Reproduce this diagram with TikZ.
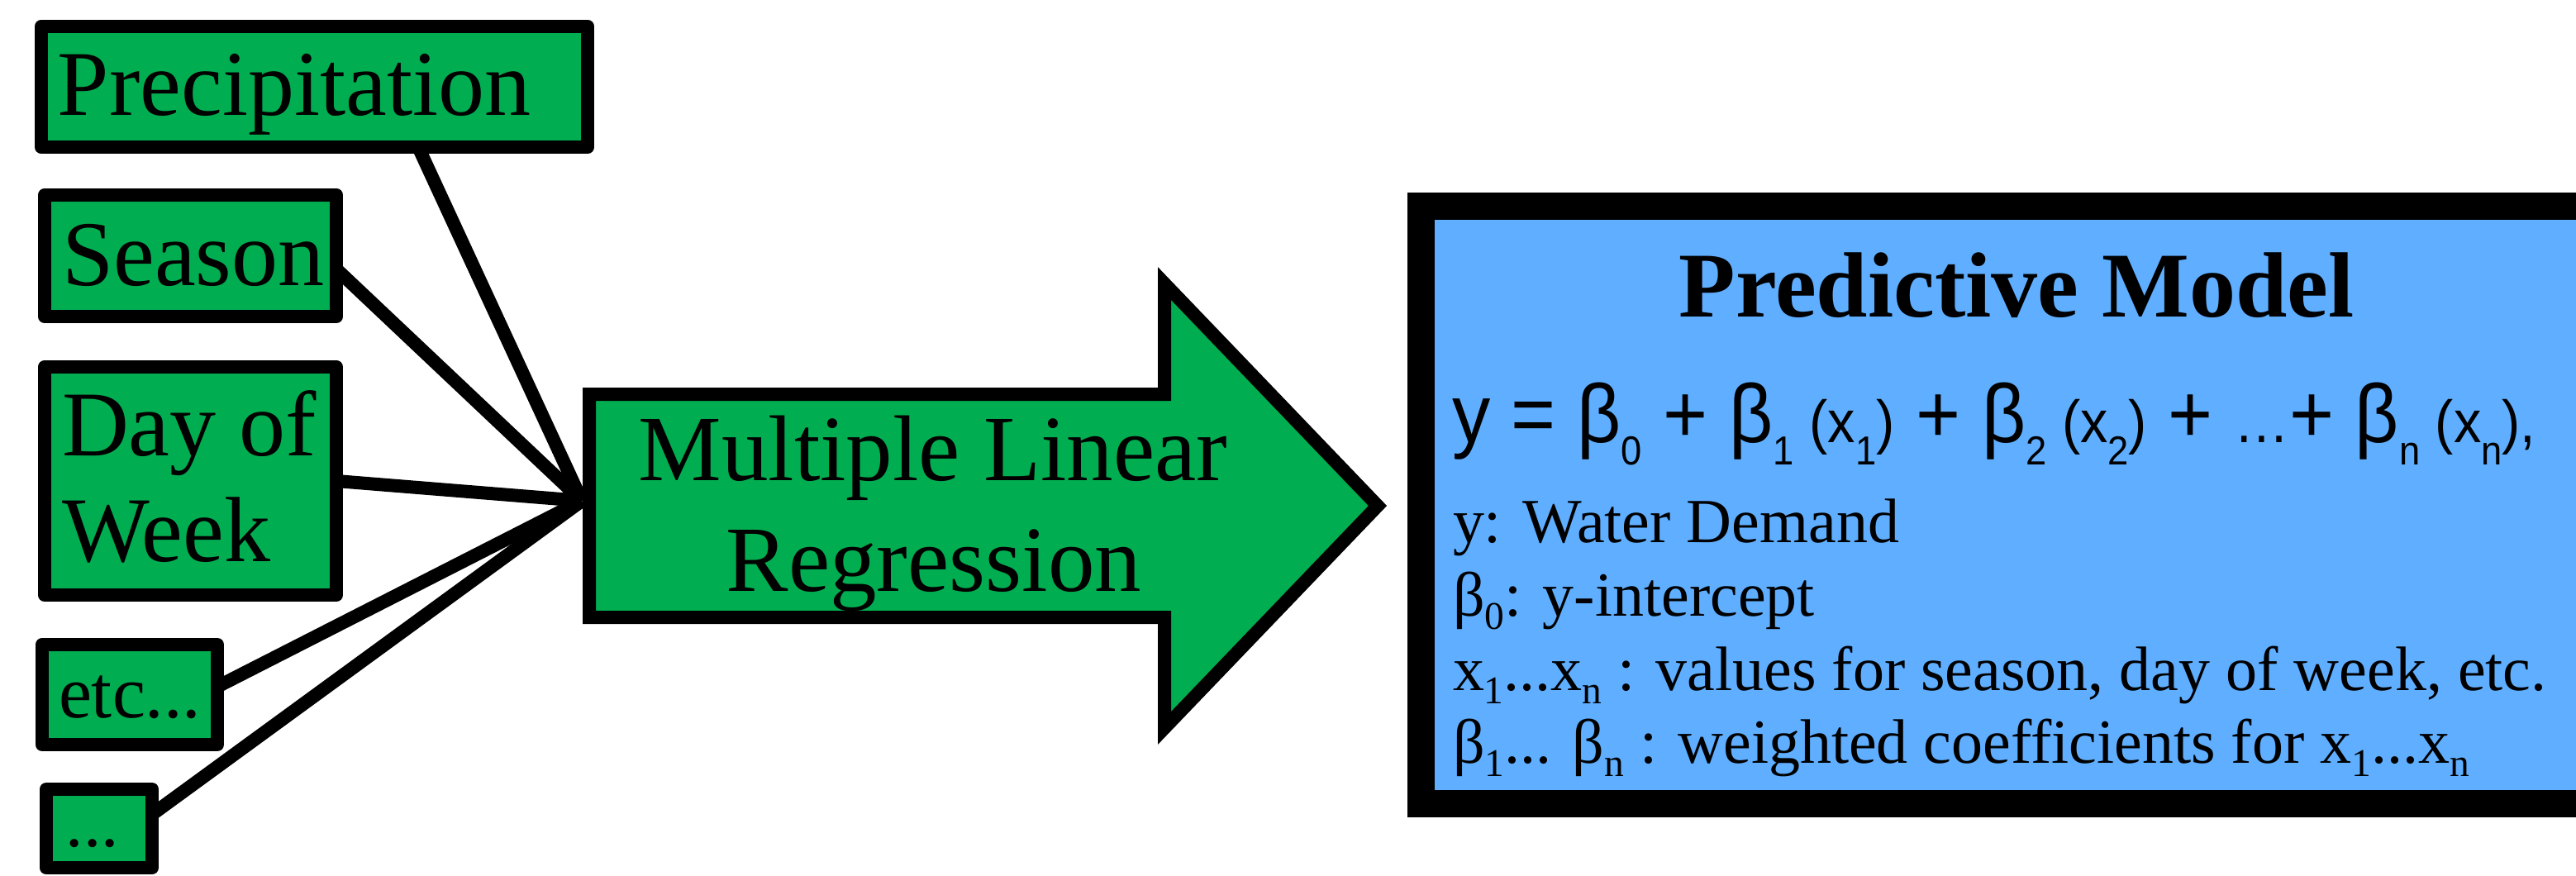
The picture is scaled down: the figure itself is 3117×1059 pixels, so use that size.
\documentclass[tikz,border=0pt]{standalone}
\usepackage{fontspec}
\setmainfont{Liberation Serif}
\newfontfamily\eqf{Liberation Sans}
\usepackage{graphicx}
\usetikzlibrary{calc}
\definecolor{grn}{RGB}{0,173,80}
\definecolor{blu}{RGB}{95,174,255}
\pgfdeclarelayer{bg}
\pgfsetlayers{bg,main}
\newcommand\FBig{\fontsize{31.87}{36}\selectfont}
\newcommand\FMid{\fontsize{25.6}{30}\selectfont}
\newcommand\FSm{\fontsize{24.2}{28}\selectfont}
\newcommand\FNote{\fontsize{21.6}{26}\selectfont}
\newcommand\EB{\fontsize{28.45}{34}\selectfont}
\newcommand\EM{\fontsize{20.5}{24}\selectfont}
\newcommand\ES[1]{\raisebox{-7.7pt}{\fontsize{13.94}{16}\selectfont #1}}
\newcommand\lo[1]{\raisebox{-4.8pt}{\fontsize{13.5}{16}\selectfont #1}}
\tikzset{
  inbox/.style={draw=black, fill=grn, line width=0.16cm, line join=round, inner sep=0pt, outer sep=0pt},
  lbl/.style={anchor=base west, inner sep=0pt, outer sep=0pt},
  ctr/.style={anchor=base, inner sep=0pt, outer sep=0pt},
  conn/.style={draw=black, line width=0.16cm},
  bigarrow/.style={draw=black, fill=grn, line width=0.16cm, line join=miter},
  modelbox/.style={draw=black, fill=blu, line width=0.33cm, inner sep=0pt, outer sep=0pt},
}
\begin{document}
\begin{tikzpicture}[x=0.01cm, y=-0.01cm]
\useasboundingbox (0,0) rectangle (3117,1059);
\clip (0,0) rectangle (3117,1059);

% input boxes
\node[inbox, minimum width=6.61cm, minimum height=1.46cm] (precip) at (380.5,105) {};
\node[inbox, minimum width=3.53cm, minimum height=1.47cm] (season) at (230.5,309.5) {};
\node[inbox, minimum width=3.53cm, minimum height=2.76cm] (day) at (230.5,582) {};
\node[inbox, minimum width=2.12cm, minimum height=1.21cm] (etc) at (157,840.5) {};
\node[inbox, minimum width=1.28cm, minimum height=0.95cm] (dots) at (120,1002.5) {};

\node[lbl] (tprecip) at (70,139) {\FBig Precipitation};
\node[lbl] (tseason) at (75,345) {\FBig Season};
\node[lbl] (tday) at (75,551) {\FBig Day of};
\node[lbl] (tweek) at (75,679) {\FBig Week};
\node[lbl] (tetc) at (71,868) {\FMid etc...};
\node[lbl] (tdots) at (80,1024) {\FSm ...};

% hub where connectors meet the arrow
\coordinate (hub) at (704,606);

\begin{pgfonlayer}{bg}
\fill[white] (0,0) rectangle (3117,1059);
\draw[conn] ($(precip.south west)!0.69!(precip.south east)$) -- (hub);
\draw[conn] ($(season.north east)!0.61!(season.south east)$) -- (hub);
\draw[conn] (day.east) -- (hub);
\draw[conn] ($(etc.north east)!0.42!(etc.south east)$) -- (hub);
\draw[conn] ($(dots.north east)!0.32!(dots.south east)$) -- (hub);
\end{pgfonlayer}

% big arrow
\draw[bigarrow] (713,477) -- (1409,477) -- (1409,343) -- (1667,612) -- (1409,881) -- (1409,747) -- (713,747) -- cycle;
\node[ctr] (mlr1) at (1129,581) {\fontsize{32.15}{36}\selectfont Multiple Linear};
\node[ctr] (mlr2) at (1130,715) {\fontsize{32.15}{36}\selectfont Regression};

% model box
\node[modelbox, minimum width=14.305cm, minimum height=7.23cm] (model) at (2434.75,611) {};
\node[ctr] (title) at (2440,383) {\FBig\bfseries Predictive Model};
\node[lbl] (eq) at (1757,535) {\scalebox{0.925}[1]{\eqf\EB y = β\ES{0} + β\ES{1}\EM\ (x\ES{1})\EB\ + β\ES{2}\EM\ (x\ES{2})\EB\ + \EM…\EB+ β\ES{n}\EM\ (x\ES{n}),}};
\node[lbl] (n1) at (1758,656) {\FNote y: Water Demand};
\node[lbl] (n2) at (1758,745) {\FNote β\lo{0}: y-intercept};
\node[lbl] (n3) at (1758,835) {\FNote x\lo{1}...x\lo{n} : values for season, day of week, etc.};
\node[lbl] (n4) at (1758,923) {\FNote β\lo{1}... β\lo{n} : weighted coefficients for x\lo{1}...x\lo{n}};
\end{tikzpicture}
\end{document}
